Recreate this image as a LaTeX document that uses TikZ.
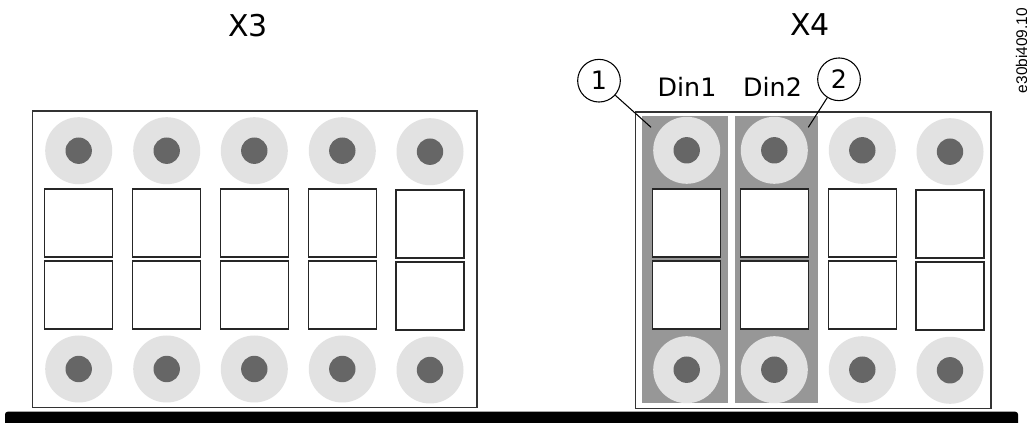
\documentclass[tikz,border=0pt]{standalone}
\usepackage{fontspec}
\usepackage{tikz}
\setmainfont{DejaVu Sans}
\newfontfamily\codefont{Liberation Sans}
\definecolor{discgray}{HTML}{E2E2E2}
\definecolor{pingray}{HTML}{666666}
\definecolor{stripgray}{HTML}{979797}
\tikzset{
    panel/.style={draw=black!80, fill=white, line width=1pt, inner sep=0pt},
    strip/.style={fill=stripgray, inner sep=0pt},
    terminal/.style={circle, fill=discgray, inner sep=0pt, minimum size=50.25pt,
        path picture={\fill [pingray] (path picture bounding box.center) circle (9.9pt);}},
    slot/.style={draw=black!85, fill=white, line width=1pt, inner sep=0pt, minimum size=51pt},
    callout/.style={circle, draw, fill=white, line width=0.8pt, inner sep=0pt, minimum size=32pt, font=\fontsize{19}{19}\selectfont},
    title/.style={font=\fontsize{22.5}{22.5}\selectfont},
    pinlabel/.style={font=\fontsize{19}{19}\selectfont}
}

\begin{document}
\begin{tikzpicture}[x=0.75pt, y=-0.75pt]
    \useasboundingbox (0,0) rectangle (1027,423);
    \fill [black, rounded corners=2pt] (5,430) -- (5,411.7) -- (1018,411.7) -- (1018,430) -- cycle;
    \path [clip] (0,0) rectangle (1027,423);

    % left block
    \node [title] at (248,26) (x3) {X3};
    \node [panel, minimum width=333.5pt, minimum height=222.5pt] at (254.7,259.4) (left) {};
    \node [terminal] at (78.7,150.7) (lt1) {};
    \node [terminal] at (166.7,150.7) (lt2) {};
    \node [terminal] at (254.3,150.7) (lt3) {};
    \node [terminal] at (342.3,150.7) (lt4) {};
    \node [terminal] at (430,151.7) (lt5) {};
    \node [slot] at (78.7,223) (la1) {};
    \node [slot] at (166.7,223) (la2) {};
    \node [slot] at (254.3,223) (la3) {};
    \node [slot] at (342.3,223) (la4) {};
    \node [slot] at (430,224) (la5) {};
    \node [slot] at (78.7,295) (lb1) {};
    \node [slot] at (166.7,295) (lb2) {};
    \node [slot] at (254.3,295) (lb3) {};
    \node [slot] at (342.3,295) (lb4) {};
    \node [slot] at (430,296) (lb5) {};
    \node [terminal] at (78.7,369) (lc1) {};
    \node [terminal] at (166.7,369) (lc2) {};
    \node [terminal] at (254.3,369) (lc3) {};
    \node [terminal] at (342.3,369) (lc4) {};
    \node [terminal] at (430,370) (lc5) {};

    % right block
    \node [title] at (810,25) (x4) {X4};
    \node [panel, minimum width=266.5pt, minimum height=222.5pt] at (813.4,260.2) (right) {};
    \node [strip, minimum width=64.5pt, minimum height=215pt] at (685,259.4) (din1strip) {};
    \node [strip, minimum width=62.25pt, minimum height=215pt] at (776.5,259.4) (din2strip) {};
    \node [terminal] at (686.7,150.3) (rt1) {};
    \node [terminal] at (774.3,150.3) (rt2) {};
    \node [terminal] at (862.3,150.3) (rt3) {};
    \node [terminal] at (950,151.7) (rt4) {};
    \node [slot] at (686.7,223) (ra1) {};
    \node [slot] at (774.7,223) (ra2) {};
    \node [slot] at (862.2,223) (ra3) {};
    \node [slot] at (950,224) (ra4) {};
    \node [slot] at (686.7,295) (rb1) {};
    \node [slot] at (774.7,295) (rb2) {};
    \node [slot] at (862.2,295) (rb3) {};
    \node [slot] at (950,296) (rb4) {};
    \node [terminal] at (686.7,369.7) (rc1) {};
    \node [terminal] at (774.3,369.7) (rc2) {};
    \node [terminal] at (862.3,369.7) (rc3) {};
    \node [terminal] at (950,370.3) (rc4) {};

    \node [pinlabel] at (687,87) (din1) {Din1};
    \node [pinlabel] at (772.5,87) (din2) {Din2};
    \node [callout] at (599,80.7) (one) {1};
    \node [callout] at (839,79.3) (two) {2};
    \coordinate (onetip) at (651,127.3);
    \coordinate (twotip) at (808.3,127.3);
    \path [draw, line width=0.8pt] (one) -- (onetip);
    \path [draw, line width=0.8pt] (two) -- (twotip);

    \node [rotate=90, font=\codefont\fontsize{11.6}{11.6}\selectfont] at (1021.5,50.5) (code) {e30bi409.10};
\end{tikzpicture}
\end{document}
